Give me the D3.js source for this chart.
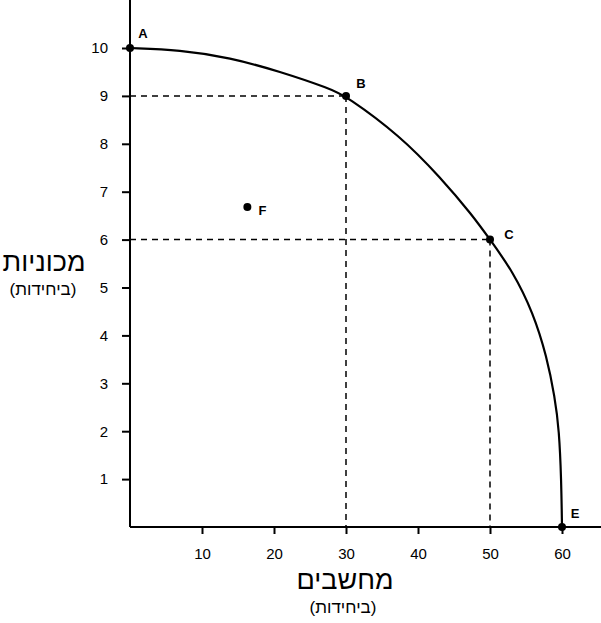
<!DOCTYPE html>
<html>
<head>
<meta charset="utf-8">
<script src="https://cdn.jsdelivr.net/npm/d3@7"></script>
<style>
  body { margin: 0; background: #fff; }
  text { font-family: "Liberation Sans", Arial, sans-serif; fill: #000; }
</style>
</head>
<body>
<svg id="chart" width="601" height="623"></svg>
<script>
// ---- data ----
var xTicks = [10, 20, 30, 40, 50, 60];
var yTicks = [1, 2, 3, 4, 5, 6, 7, 8, 9, 10];
// frontier curve
var curveX = [0, 6.9, 13.9, 20.8, 27.8, 30, 37.5, 43.1, 47.6, 50, 53.2, 56, 57.9, 59, 59.6, 59.9, 60];
var curveY = [10, 9.96, 9.8, 9.51, 9.15, 9, 8.17, 7.3, 6.5, 6, 5.33, 4.47, 3.55, 2.71, 2.03, 0.98, 0];
var pointNames = ["A", "B", "C", "E", "F"];
var pointX = [0, 30, 50, 60, 16.3];
var pointY = [10, 9, 6, 0, 6.68];
var guideNames = ["B", "C"];   // dashed guides drawn for these
var xTitle = "מחשבים", yTitle = "מכוניות", unitLabel = "(ביחידות)";

var svg = d3.select("#chart");

var x = d3.scaleLinear().domain([0, 60]).range([130, 562]);
var y = d3.scaleLinear().domain([0, 10]).range([527, 48]);

// axes lines
svg.append("line").attr("x1", 130).attr("x2", 130).attr("y1", 0).attr("y2", 527)
  .attr("stroke", "#000").attr("stroke-width", 2);
svg.append("line").attr("x1", 130).attr("x2", 601).attr("y1", 527).attr("y2", 527)
  .attr("stroke", "#000").attr("stroke-width", 2);

// ticks via d3 axes, domain path removed
var yAxis = svg.append("g").attr("transform", "translate(130,0)")
  .call(d3.axisLeft(y).tickValues(yTicks).tickSize(8).tickPadding(14));
var xAxis = svg.append("g").attr("transform", "translate(0,527)")
  .call(d3.axisBottom(x).tickValues(xTicks).tickSize(7).tickPadding(14));
[xAxis, yAxis].forEach(function(g) {
  g.select(".domain").remove();
  g.selectAll("line").attr("stroke", "#000").attr("stroke-width", 2);
  g.selectAll("text").attr("font-size", 15)
    .style("font-family", "'Liberation Sans', Arial, sans-serif");
});

// dashed guides
guideNames.forEach(function(n) {
  var i = pointNames.indexOf(n);
  svg.append("line")
    .attr("x1", x(0)).attr("x2", x(pointX[i]))
    .attr("y1", y(pointY[i])).attr("y2", y(pointY[i]))
    .attr("stroke", "#000").attr("stroke-width", 1.5).attr("stroke-dasharray", "6,5");
  svg.append("line")
    .attr("x1", x(pointX[i])).attr("x2", x(pointX[i]))
    .attr("y1", y(pointY[i])).attr("y2", y(0))
    .attr("stroke", "#000").attr("stroke-width", 1.5).attr("stroke-dasharray", "6,5");
});

// frontier
var line = d3.line()
  .x(function(d) { return x(d[0]); })
  .y(function(d) { return y(d[1]); })
  .curve(d3.curveBasis);
svg.append("path")
  .datum(d3.zip(curveX, curveY))
  .attr("d", line)
  .attr("fill", "none").attr("stroke", "#000").attr("stroke-width", 2.2);

// points and labels
var labelOff = { A: [13, -15], B: [15, -13], C: [19, -6], E: [13, -14], F: [15, 3] };
pointNames.forEach(function(n, i) {
  svg.append("circle").attr("cx", x(pointX[i])).attr("cy", y(pointY[i])).attr("r", 4).attr("fill", "#000");
  svg.append("text")
    .attr("x", x(pointX[i]) + labelOff[n][0])
    .attr("y", y(pointY[i]) + labelOff[n][1] + 5)
    .attr("text-anchor", "middle")
    .attr("font-size", 13).attr("font-weight", "bold")
    .text(n);
});

// axis titles
var hebFont = "'Liberation Sans', 'DejaVu Sans', sans-serif";
svg.append("text").attr("x", 44).attr("y", 271).attr("text-anchor", "middle")
  .attr("font-size", 27).style("font-family", hebFont).text(yTitle);
svg.append("text").attr("x", 43).attr("y", 295).attr("text-anchor", "middle")
  .attr("font-size", 17).style("font-family", hebFont).text(unitLabel);
svg.append("text").attr("x", 345).attr("y", 589).attr("text-anchor", "middle")
  .attr("font-size", 27).style("font-family", hebFont).text(xTitle);
svg.append("text").attr("x", 343).attr("y", 613).attr("text-anchor", "middle")
  .attr("font-size", 17).style("font-family", hebFont).text(unitLabel);
</script>
</body>
</html>
